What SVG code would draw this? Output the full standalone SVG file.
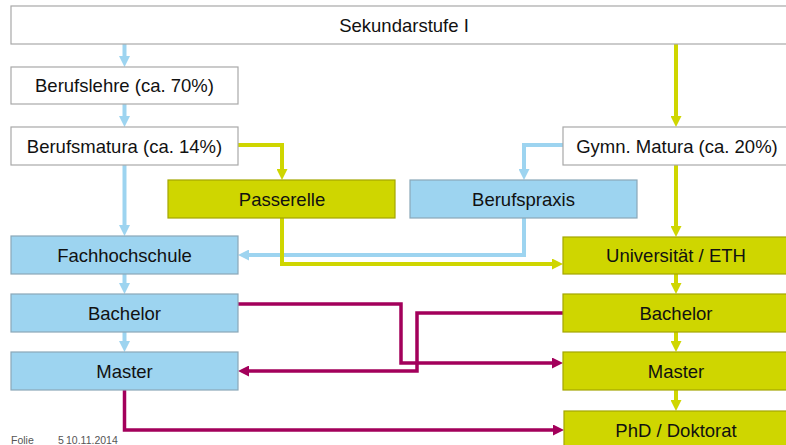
<svg xmlns="http://www.w3.org/2000/svg" width="786" height="445" viewBox="0 0 786 445">
<defs>
<style>
.t{font-family:"Liberation Sans",Arial,sans-serif;font-size:18.5px;fill:#111;text-anchor:middle}
.w{fill:#fff;stroke:#a8a8a8;stroke-width:1.2}
.b{fill:#9dd4f0;stroke:#8aa7b8;stroke-width:1.2}
.y{fill:#cfd600;stroke:#a3a600;stroke-width:1.2}
.cb{fill:none;stroke:#9dd4f0;stroke-width:4}
.cy{fill:none;stroke:#cfd600;stroke-width:4}
.cm{fill:none;stroke:#a3005b;stroke-width:3.5}
.f{font-family:"Liberation Sans",Arial,sans-serif;font-size:10.5px;fill:#555}
</style>
<marker id="ab" viewBox="0 0 11 11" refX="1" refY="5.5" markerWidth="11" markerHeight="11" markerUnits="userSpaceOnUse" orient="auto"><path d="M0,0 L11,5.5 L0,11 z" fill="#9dd4f0"/></marker>
<marker id="ay" viewBox="0 0 11 11" refX="1" refY="5.5" markerWidth="11" markerHeight="11" markerUnits="userSpaceOnUse" orient="auto"><path d="M0,0 L11,5.5 L0,11 z" fill="#cfd600"/></marker>
<marker id="am" viewBox="0 0 11 11" refX="1" refY="5.5" markerWidth="11" markerHeight="11" markerUnits="userSpaceOnUse" orient="auto"><path d="M0,0 L11,5.5 L0,11 z" fill="#a3005b"/></marker>
</defs>
<rect width="786" height="445" fill="#fff"/>
<g id="connectors">
<path class="cb" marker-end="url(#ab)" d="M124.5,44 V57"/>
<path class="cb" marker-end="url(#ab)" d="M124.5,104 V117"/>
<path class="cb" marker-end="url(#ab)" d="M124.5,165 V226"/>
<path class="cb" marker-end="url(#ab)" d="M124.5,274 V284"/>
<path class="cb" marker-end="url(#ab)" d="M124.5,332 V342"/>
<path class="cy" marker-end="url(#ay)" d="M676,44 V117"/>
<path class="cy" marker-end="url(#ay)" d="M676,165 V227"/>
<path class="cy" marker-end="url(#ay)" d="M676,274 V284"/>
<path class="cy" marker-end="url(#ay)" d="M676,332 V342"/>
<path class="cy" marker-end="url(#ay)" d="M676,390 V401"/>
<path class="cy" marker-end="url(#ay)" d="M238,145 H282 V170"/>
<path class="cb" marker-end="url(#ab)" d="M563,145 H524 V170"/>
<path class="cb" marker-end="url(#ab)" d="M524,218 V255 H248"/>
<path class="cy" marker-end="url(#ay)" d="M282,218 V264 H553"/>
<path class="cm" marker-end="url(#am)" d="M238,304 H401 V363 H553"/>
<path class="cm" marker-end="url(#am)" d="M563,313 H417 V371 H248"/>
<path class="cm" marker-end="url(#am)" d="M124.5,390 V430 H554"/>
</g>
<g id="sek"><rect class="w" x="11" y="6" width="790" height="38"/><text class="t" x="404" y="31.5">Sekundarstufe I</text></g>
<g id="berufslehre"><rect class="w" x="11" y="67" width="227" height="37"/><text class="t" x="124.5" y="92">Berufslehre (ca. 70%)</text></g>
<g id="berufsmatura"><rect class="w" x="11" y="127" width="227" height="38"/><text class="t" x="124.5" y="152.5">Berufsmatura (ca. 14%)</text></g>
<g id="gymn"><rect class="w" x="563" y="127" width="240" height="38"/><text class="t" x="677" y="152.5">Gymn. Matura (ca. 20%)</text></g>
<g id="passerelle"><rect class="y" x="168" y="180" width="227" height="38"/><text class="t" x="282" y="205.5">Passerelle</text></g>
<g id="berufspraxis"><rect class="b" x="410" y="180" width="227" height="38"/><text class="t" x="523.5" y="205.5">Berufspraxis</text></g>
<g id="fh"><rect class="b" x="11" y="236" width="227" height="38"/><text class="t" x="124.5" y="261.5">Fachhochschule</text></g>
<g id="uni"><rect class="y" x="563" y="237" width="240" height="37"/><text class="t" x="676" y="262">Universität / ETH</text></g>
<g id="bach-fh"><rect class="b" x="11" y="294" width="227" height="38"/><text class="t" x="124.5" y="319.5">Bachelor</text></g>
<g id="bach-uni"><rect class="y" x="563" y="294" width="240" height="38"/><text class="t" x="676" y="319.5">Bachelor</text></g>
<g id="master-fh"><rect class="b" x="11" y="352" width="227" height="38"/><text class="t" x="124.5" y="377.5">Master</text></g>
<g id="master-uni"><rect class="y" x="563" y="352" width="240" height="38"/><text class="t" x="676" y="377.5">Master</text></g>
<g id="phd"><rect class="y" x="564" y="411" width="240" height="40"/><text class="t" x="676" y="437">PhD / Doktorat</text></g>
<text class="f" x="11" y="444">Folie</text>
<text class="f" x="58" y="444">5</text>
<text class="f" x="66" y="444">10.11.2014</text>
</svg>
